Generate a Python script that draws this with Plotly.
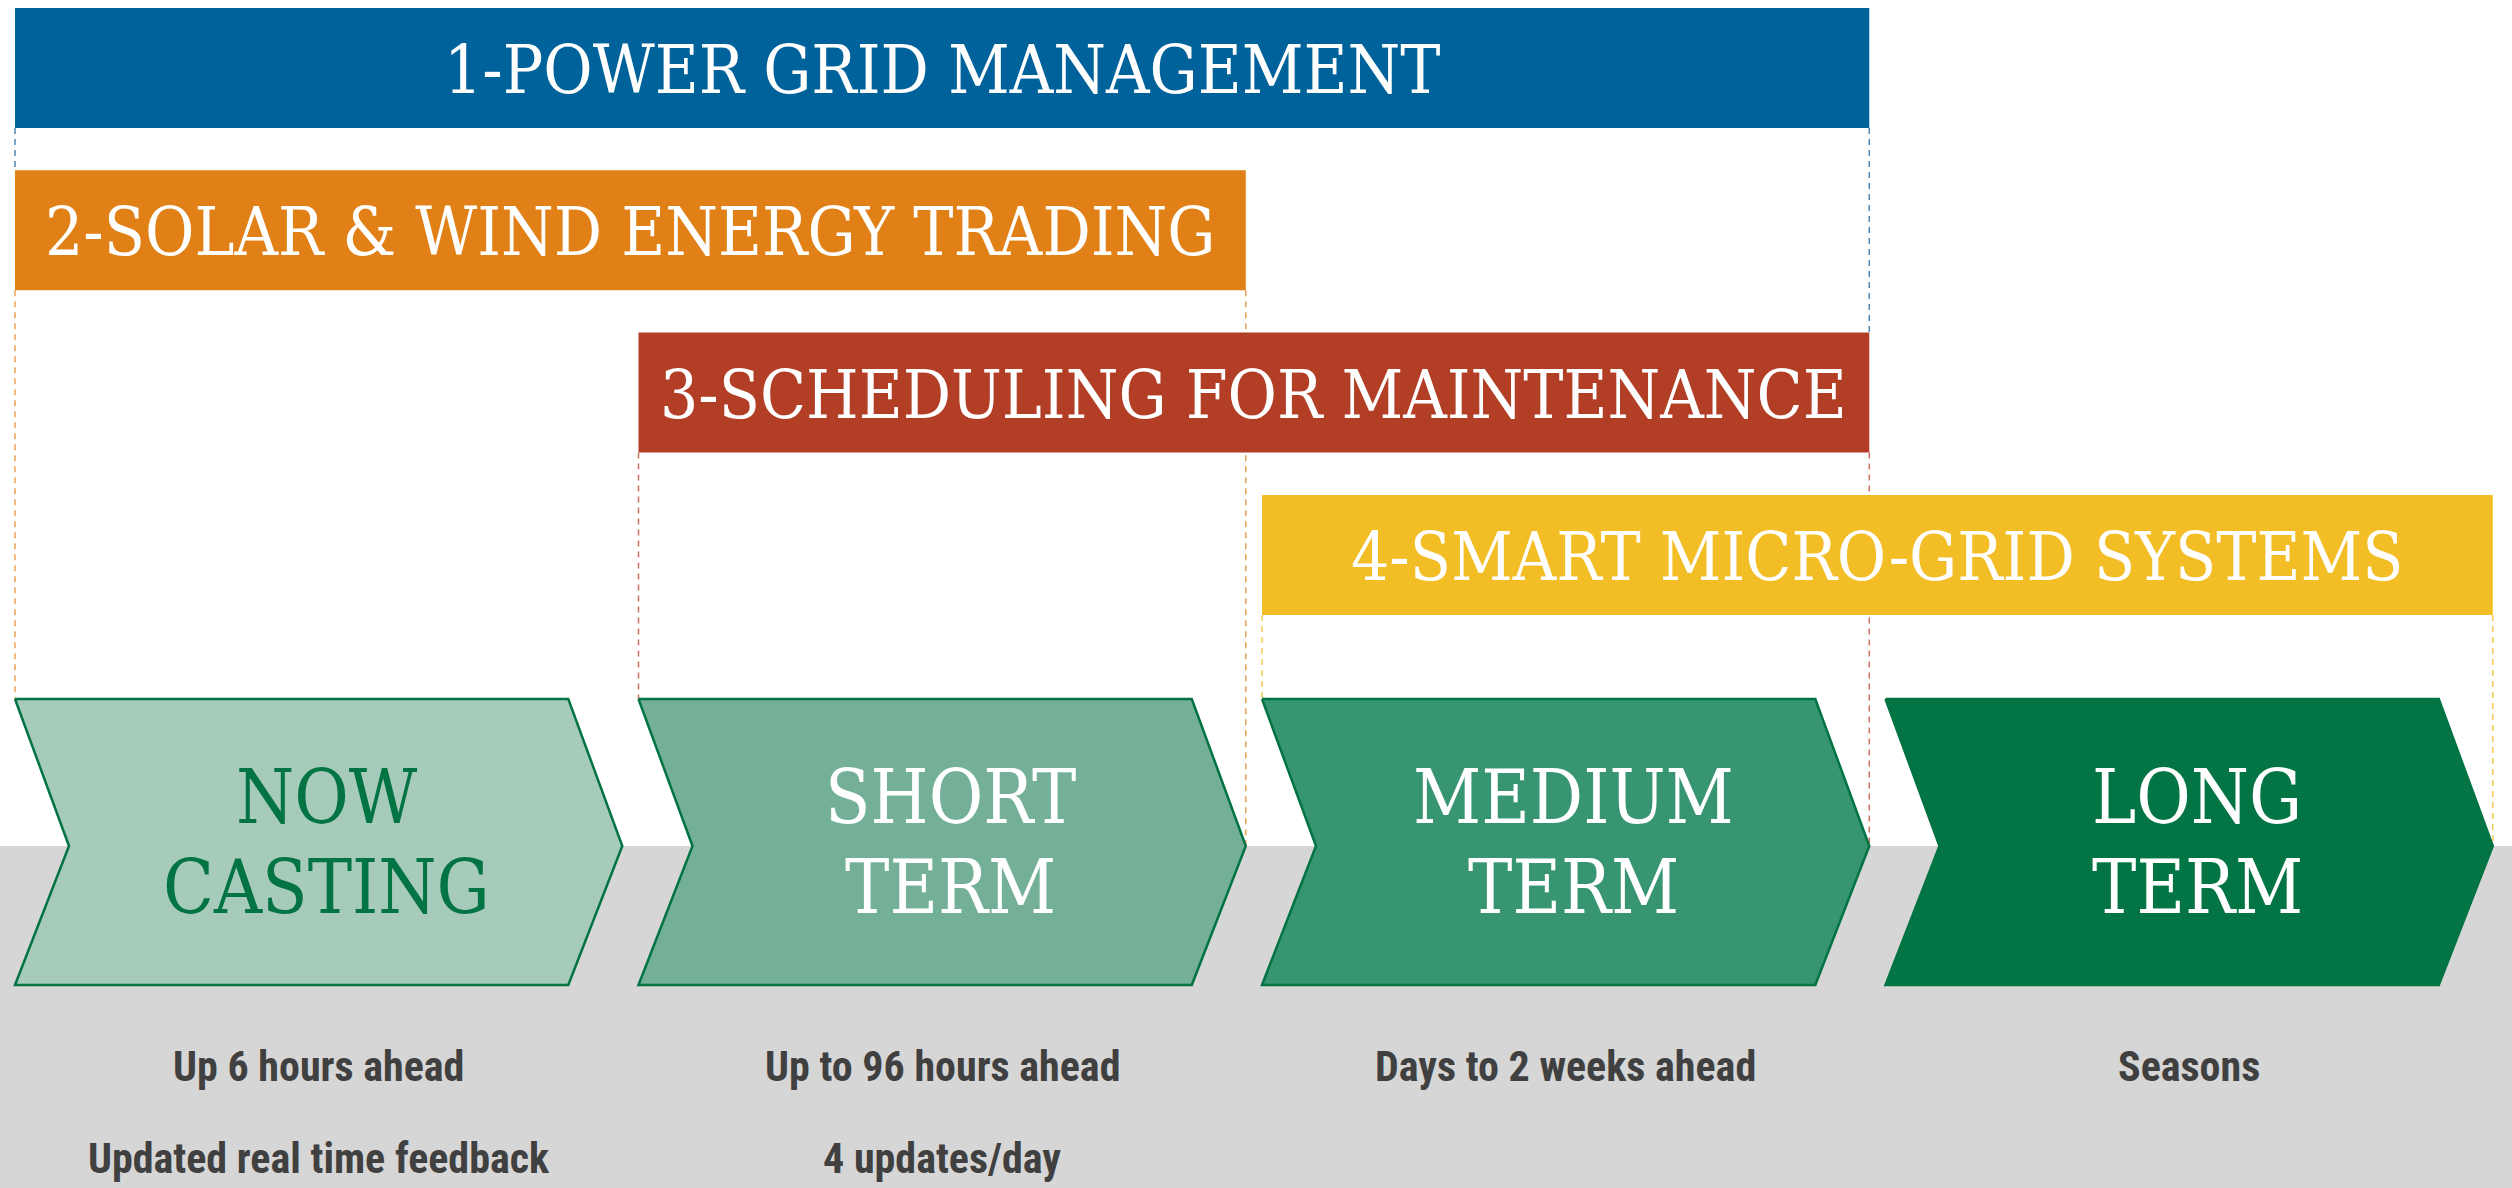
import plotly.graph_objects as go

# ---- data ----
horizons = ["NOW\nCASTING", "SHORT\nTERM", "MEDIUM\nTERM", "LONG\nTERM"]
horizon_notes = [
    ["Up 6 hours ahead", "Updated real time feedback"],
    ["Up to 96 hours ahead", "4 updates/day"],
    ["Days to 2 weeks ahead"],
    ["Seasons"],
]
horizon_fill = ["#A7CBBA", "#74B097", "#389571", "#037544"]
horizon_text = ["#027342", "#FFFFFF", "#FFFFFF", "#FFFFFF"]

applications = [
    "1-POWER GRID MANAGEMENT",
    "2-SOLAR & WIND ENERGY TRADING",
    "3-SCHEDULING FOR MAINTENANCE",
    "4-SMART MICRO-GRID SYSTEMS",
]
app_start = [0, 0, 1, 2]   # first horizon index covered
app_end = [2, 1, 2, 3]     # last horizon index covered
app_colors = ["#00629A", "#E08016", "#B33E26", "#F2BD25"]
app_dash_colors = ["#4F86B4", "#EBA158", "#C97362", "#F3CB55"]

# ---- layout constants ----
W, H = 2512, 1188
UNIT = 623.5            # pixels per horizon
X0PX = 15
CHEV_W = 0.974          # chevron width in horizon units
NOTCH = 0.0866          # notch / tip depth
CHEV_TOP, CHEV_MID, CHEV_BOT = 699, 846, 985
ROW_TOP0, ROW_STEP, ROW_H = 8, 162.3, 120
BAND_TOP = 846

xmin = -X0PX / UNIT
xmax = (W - X0PX) / UNIT

fig = go.Figure()

# grey band
fig.add_shape(type="rect", xref="paper", yref="y", x0=0, x1=1, y0=BAND_TOP, y1=H,
              fillcolor="#D6D6D6", line_width=0, layer="below")

# ---- dashed guide lines ----
def bar_top(k):
    return ROW_TOP0 + k * ROW_STEP

def bar_bot(k):
    return bar_top(k) + ROW_H

for k in range(len(applications)):
    left = app_start[k]
    right = app_end[k] + CHEV_W
    for edge, is_left in ((left, True), (right, False)):
        y_end = CHEV_TOP if is_left else CHEV_MID
        for j in range(k + 1, len(applications)):
            e2 = app_start[j] if is_left else app_end[j] + CHEV_W
            if abs(e2 - edge) < 1e-6:
                y_end = bar_top(j)
                break
        fig.add_trace(go.Scatter(
            x=[edge, edge], y=[bar_bot(k), y_end], mode="lines",
            line=dict(color=app_dash_colors[k], width=1.5, dash="6px,5px"),
            hoverinfo="skip", showlegend=False))

# ---- application bars ----
for k, name in enumerate(applications):
    x0 = app_start[k]
    x1 = app_end[k] + CHEV_W
    y0, y1 = bar_top(k), bar_bot(k)
    fig.add_trace(go.Scatter(
        x=[x0, x1, x1, x0, x0], y=[y0, y0, y1, y1, y0], mode="lines",
        fill="toself", fillcolor=app_colors[k], line=dict(width=0, color=app_colors[k]),
        hoverinfo="skip", showlegend=False))
    fig.add_annotation(x=(x0 + x1) / 2, y=(y0 + y1) / 2 + 2, text=name, showarrow=False,
                       xanchor="center", yanchor="middle",
                       font=dict(family="DejaVu Serif Condensed, DejaVu Serif, serif",
                                 size=67, color="white"))

# ---- chevrons ----
for i, label in enumerate(horizons):
    a = i
    b = i + CHEV_W
    xs = [a, b - NOTCH, b, b - NOTCH, a, a + NOTCH, a]
    ys = [CHEV_TOP, CHEV_TOP, CHEV_MID, CHEV_BOT, CHEV_BOT, CHEV_MID, CHEV_TOP]
    fig.add_trace(go.Scatter(
        x=xs, y=ys, mode="lines", fill="toself", fillcolor=horizon_fill[i],
        line=dict(color="#027342", width=2.5), hoverinfo="skip", showlegend=False))
    lines = label.split("\n")
    cx = i + 0.5
    pitch = 90
    ystart = 797 - (len(lines) - 2) * pitch / 2
    for li, t in enumerate(lines):
        fig.add_annotation(x=cx, y=ystart + li * pitch, text=t, showarrow=False,
                           xanchor="center", yanchor="middle",
                           font=dict(family="DejaVu Serif Condensed, DejaVu Serif, serif",
                                     size=74, color=horizon_text[i]))
    for li, t in enumerate(horizon_notes[i]):
        fig.add_annotation(x=i + CHEV_W / 2, y=1066 + li * 92, text=t, showarrow=False,
                           xanchor="center", yanchor="middle",
                           font=dict(family="Roboto Condensed, Open Sans Condensed, Liberation Sans Narrow, DejaVu Sans Condensed, sans-serif",
                                     size=42, color="#404040", weight="bold"))

fig.update_xaxes(range=[xmin, xmax], visible=False, fixedrange=True)
fig.update_yaxes(range=[H, 0], visible=False, fixedrange=True)
fig.update_layout(width=W, height=H, margin=dict(l=0, r=0, t=0, b=0),
                  paper_bgcolor="white", plot_bgcolor="white", showlegend=False)

fig.write_html("out.html", config={"displayModeBar": False},
               post_script="document.body.style.margin='0';document.body.style.overflow='hidden';")
